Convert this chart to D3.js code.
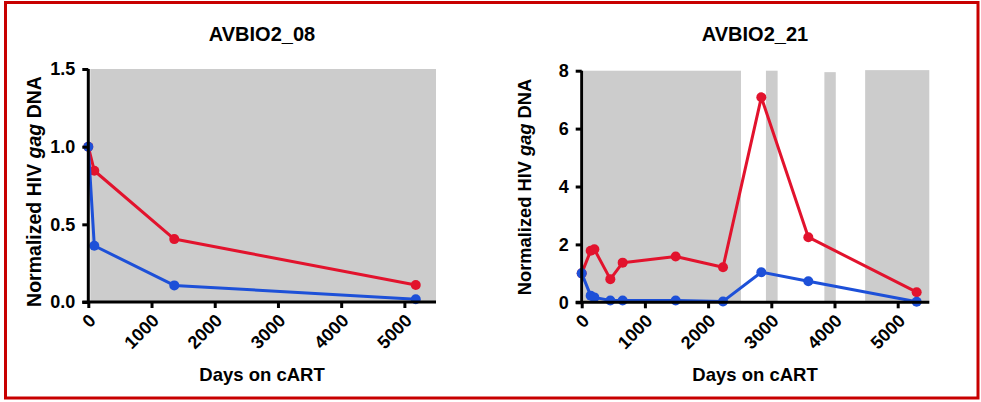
<!DOCTYPE html>
<html><head><meta charset="utf-8">
<script src="https://cdn.jsdelivr.net/npm/d3@7/dist/d3.min.js"></script>
<style>
body{margin:0;background:#fff;}
text{font-family:"Liberation Sans",Arial,Helvetica,sans-serif;font-weight:bold;fill:#000;}
</style></head><body>
<svg id="c" width="981" height="402"></svg>
<script>
// ---- data ----
const titles = ["AVBIO2_08", "AVBIO2_21"];
const xTicks = [0, 1000, 2000, 3000, 4000, 5000];
const yTicks08 = [0, 0.5, 1.0, 1.5];
const yTicks21 = [0, 2, 4, 6, 8];
const yMax08 = 1.5, yMax21 = 8, xMax = 5500;

const days08 = [0, 95, 1360, 5180];
const red08  = [1.0, 0.845, 0.405, 0.11];
const blue08 = [1.0, 0.362, 0.107, 0.018];
const shade08 = [[0, 5500, 1.5]];

const days21 = [0, 142, 200, 453, 648, 1487, 2236, 2842, 3586, 5300];
const red21  = [1.0, 1.78, 1.83, 0.80, 1.37, 1.58, 1.21, 7.08, 2.25, 0.35];
const blue21 = [1.0, 0.23, 0.17, 0.06, 0.06, 0.06, 0.03, 1.04, 0.73, 0.02];
const shade21 = [[0, 2520, 8], [2915, 3100, 8], [3840, 4020, 7.95], [4485, 5500, 8.02]];

const RED = "#e2132d", BLUE = "#1d50d8", GRAY = "#cccccc";
const TICK_FS = 18;

const svg = d3.select("#c");
svg.append("rect").attr("x",5.5).attr("y",2.5).attr("width",972.5).attr("height",395.5)
  .attr("fill","none").attr("stroke","#c80000").attr("stroke-width",3);

function panel(cfg){
  const x = d3.scaleLinear().domain([0,xMax]).range([cfg.x0,cfg.x1]);
  const y = d3.scaleLinear().domain([0,cfg.yMax]).range([cfg.y0,cfg.y1]);
  const g = svg.append("g");
  g.selectAll("rect.sh").data(cfg.shade).join("rect").attr("class","sh")
    .attr("x",d=>x(d[0])+(d[0]===0?2:0)).attr("width",d=>x(d[1])-x(d[0])-(d[0]===0?2:0))
    .attr("y",d=>y(d[2])).attr("height",d=>y(0)-y(d[2])).attr("fill",GRAY);
  const series = [[cfg.red,RED],[cfg.blue,BLUE]];
  series.forEach(([vals,col])=>{
    const pts = cfg.days.map((d,i)=>[d,vals[i]]);
    g.append("path").datum(pts).attr("fill","none").attr("stroke",col).attr("stroke-width",3)
      .attr("stroke-linejoin","round")
      .attr("d",d3.line().x(d=>x(d[0])).y(d=>y(d[1])));
    g.selectAll(null).data(pts).join("circle").attr("cx",d=>x(d[0])).attr("cy",d=>y(d[1]))
      .attr("r",5).attr("fill",col);
  });
  const ya = g.append("g").attr("transform",`translate(${cfg.x0},0)`)
    .call(d3.axisLeft(y).tickValues(cfg.yTicks).tickFormat("").tickSize(6));
  const xa = g.append("g").attr("transform",`translate(0,${cfg.y0})`)
    .call(d3.axisBottom(x).tickValues(xTicks).tickFormat("").tickSize(6));
  [ya,xa].forEach(a=>{
    a.select(".domain").attr("stroke","#000").attr("stroke-width",3);
    a.selectAll(".tick line").attr("stroke","#000").attr("stroke-width",3);
  });
  ya.select(".domain").attr("d",`M0,${cfg.y0+1.5}V${cfg.y1}`);
  xa.select(".domain").attr("d",`M${cfg.x0-6},0H${cfg.x1}`);
  ya.selectAll(".tick line").attr("x1",0);

  g.selectAll("text.yt").data(cfg.yTicks).join("text").attr("class","yt")
    .attr("x",cfg.x0-13).attr("y",d=>y(d)).attr("dy","0.36em").attr("text-anchor","end")
    .style("font-size",TICK_FS+"px").text(cfg.yFmt);
  g.selectAll("text.xt").data(xTicks).join("text").attr("class","xt")
    .attr("text-anchor","end").attr("dy","0.36em")
    .attr("transform",d=>`translate(${x(d)+4},${cfg.y0+15}) rotate(-45)`)
    .style("font-size",TICK_FS+"px").text(d3.format("d"));

  svg.append("text").attr("x",cfg.tx).attr("y",40.5).attr("text-anchor","middle")
    .style("font-size","20px").text(cfg.title);
  svg.append("text").attr("x",cfg.tx).attr("y",380.5).attr("text-anchor","middle")
    .style("font-size","18.5px").text("Days on cART");
  const yl = svg.append("text").attr("transform",`translate(${cfg.lx},${cfg.ly}) rotate(-90)`)
    .attr("text-anchor","middle").style("font-size",cfg.lfs+"px");
  yl.append("tspan").text("Normalized HIV ");
  yl.append("tspan").style("font-style","italic").text("gag");
  yl.append("tspan").text(" DNA");
}

panel({x0:88.3,x1:436,y0:302,y1:69,yMax:yMax08,yTicks:yTicks08,yFmt:d3.format(".1f"),
  days:days08,red:red08,blue:blue08,shade:shade08,title:titles[0],tx:262,lx:41,ly:191.5,lfs:19.5});
panel({x0:581.7,x1:929.3,y0:302.3,y1:70.7,yMax:yMax21,yTicks:yTicks21,yFmt:d3.format("d"),
  days:days21,red:red21,blue:blue21,shade:shade21,title:titles[1],tx:755,lx:531,ly:187,lfs:18.3});
</script></body></html>
